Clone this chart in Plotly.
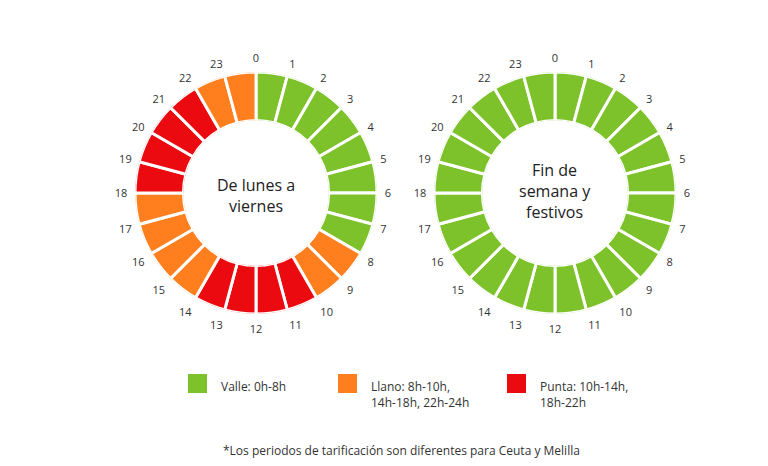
import plotly.graph_objects as go

hours = list(range(24))
hour_labels = [str(h) for h in hours]
weekday_period = ["Valle"] * 8 + ["Llano"] * 2 + ["Punta"] * 4 + ["Llano"] * 4 + ["Punta"] * 4 + ["Llano"] * 2
weekend_period = ["Valle"] * 24
period_names = ["Valle", "Llano", "Punta"]
period_colors = {"Valle": "#7DC22B", "Llano": "#FF7F1E", "Punta": "#EA0A0F"}
legend_texts = ["Valle: 0h-8h", "Llano: 8h-10h,<br>14h-18h, 22h-24h", "Punta: 10h-14h,<br>18h-22h"]
centre_titles = ["De lunes a<br>viernes", "Fin de<br>semana y<br>festivos"]
footnote = "*Los periodos de tarificación son diferentes para Ceuta y Melilla"

OFF = 8  # page body margin
W, H = 768 - OFF, 466 - OFF
fig = go.Figure()

def px(x):
    return (x - OFF) / W

def py(y):
    return 1 - (y - OFF) / H

theta = [h * 15 + 7.5 for h in hours]
for i, periods in enumerate([weekday_period, weekend_period]):
    fig.add_trace(go.Barpolar(
        r=[1] * 24, theta=theta, width=[15] * 24,
        marker=dict(color=[period_colors[p] for p in periods], line=dict(color="white", width=3)),
        subplot="polar" if i == 0 else "polar2", showlegend=False, hoverinfo="skip"))

def dom(cx, cy, rad):
    return dict(x=[px(cx - rad), px(cx + rad)], y=[py(cy + rad), py(cy - rad)])

ang = dict(rotation=90, direction="clockwise", tickmode="array",
           tickvals=[h * 15 for h in hours], ticktext=hour_labels,
           showgrid=False, showline=False, ticks="outside", ticklen=5,
           tickcolor="rgba(0,0,0,0)",
           tickfont=dict(family="Open Sans", size=11, color="#333"))
rad = dict(range=[0, 1], visible=False, showgrid=False)
fig.update_layout(
    polar=dict(domain=dom(256, 193, 121), hole=0.6, angularaxis=ang, radialaxis=rad, bgcolor="white"),
    polar2=dict(domain=dom(555, 193, 121), hole=0.6, angularaxis=ang, radialaxis=rad, bgcolor="white"),
)

for cx, cy, txt in zip([256, 555], [195, 191], centre_titles):
    fig.add_annotation(x=px(cx), y=py(cy), xref="paper", yref="paper", text=txt,
                       showarrow=False, font=dict(family="Open Sans", size=16, color="#222"),
                       xanchor="center", yanchor="middle")

sq_x = [188, 338, 507]
for x0, name, txt in zip(sq_x, period_names, legend_texts):
    fig.add_shape(type="rect", xref="paper", yref="paper",
                  x0=px(x0), x1=px(x0 + 19), y0=py(393), y1=py(374),
                  fillcolor=period_colors[name], line=dict(width=0))
    fig.add_annotation(x=px(x0 + 31), y=py(376), xref="paper", yref="paper", text=txt,
                       showarrow=False, align="left", xanchor="left", yanchor="top",
                       font=dict(family="Open Sans", size=12, color="#333"))

fig.add_annotation(x=px(402), y=py(450), xref="paper", yref="paper", text=footnote,
                   showarrow=False, xanchor="center", yanchor="middle",
                   font=dict(family="Open Sans", size=12, color="#333"))

fig.update_layout(width=W, height=H, margin=dict(l=0, r=0, t=0, b=0),
                  paper_bgcolor="white", plot_bgcolor="white")
fig.write_html("out.html")
